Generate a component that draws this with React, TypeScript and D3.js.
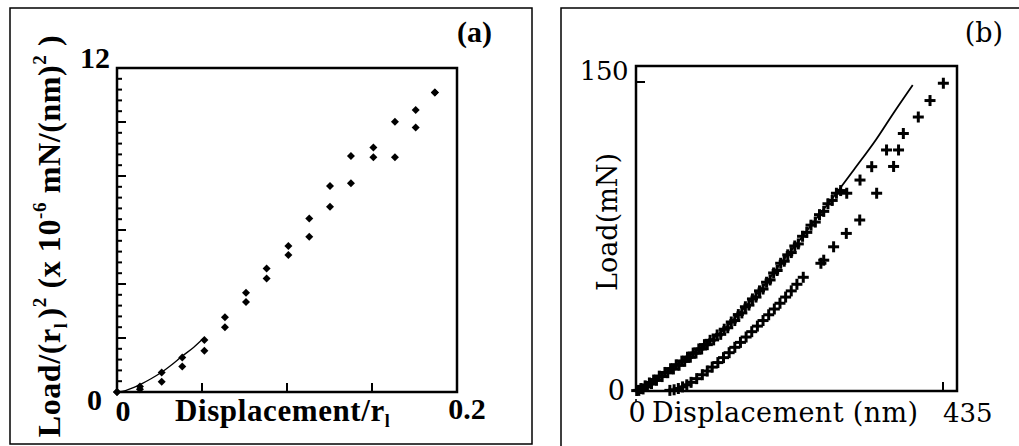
import React from "react";
import * as d3 from "d3";

// ---------- Panel (a) data ----------
const aX = [0.0, 0.0135, 0.0263, 0.0384, 0.0514, 0.0635, 0.0759, 0.088, 0.1008, 0.1131, 0.1253, 0.1376, 0.1508, 0.1635, 0.1757, 0.187];
const aYUpper = [0.0, 0.2, 0.72, 1.28, 1.93, 2.77, 3.68, 4.57, 5.41, 6.43, 7.63, 8.74, 9.06, 10.01, 10.44, 11.09];
const aYLower = [0.0, 0.1, 0.38, 0.94, 1.53, 2.4, 3.33, 4.2, 5.07, 5.75, 6.86, 7.73, 8.69, 8.69, 9.8, 11.09];
const aFitX = [0, 0.005, 0.01, 0.015, 0.02, 0.026, 0.032, 0.038, 0.045, 0.051];
const aFitY = [0, 0.05, 0.17, 0.32, 0.49, 0.72, 1.0, 1.31, 1.65, 2.0];
const aYTicksMajor = [0, 2, 4, 6, 8, 10, 12];
const aXTicks = [0.05, 0.1, 0.15];

// ---------- Panel (b) data ----------
const bFitX = [0, 10, 25, 45, 67, 95, 124, 150, 180, 205, 232, 255, 280, 310, 340, 365, 392];
const bFitY = [0, 1.8, 5.3, 10, 15, 22, 29.6, 39, 50.6, 62, 73.3, 83.5, 94.3, 108, 122, 135, 148.5];
const bLoadX = [1, 4, 7, 10, 13, 16, 19, 22, 25, 29, 33, 37, 41, 45, 49, 53, 57, 61, 65, 69, 73, 77, 81, 85, 89, 93, 97, 101, 105, 110, 115, 120, 125, 130, 135, 140, 145, 150, 155, 160, 165, 170, 175, 180, 185, 190, 195, 200, 205, 210, 215, 220, 225, 230, 236, 242, 248, 254, 260, 266, 272, 278, 284, 290];
const bLoadY = [0.2, 0.3, 1.2, 1.0, 2.5, 2.2, 3.9, 3.6, 5.3, 5.2, 7.2, 7.0, 9.0, 8.9, 10.8, 10.7, 12.7, 12.5, 14.5, 14.4, 16.4, 16.4, 18.4, 18.4, 20.4, 20.4, 22.5, 22.5, 24.6, 24.8, 27.2, 27.5, 30.0, 30.7, 33.5, 34.2, 37.1, 37.9, 40.9, 41.7, 44.7, 45.6, 48.6, 49.5, 52.8, 53.9, 57.3, 58.5, 62.0, 63.0, 66.1, 67.2, 70.4, 71.4, 75.1, 77.0, 80.5, 82.0, 85.6, 87.2, 90.9, 92.5, 96.0, 97.3];
const bLoad2X = [298.6, 317.4, 334, 355, 378.8, 400, 416.6, 435.5];
const bLoad2Y = [96, 102.4, 108.9, 117, 125, 133, 141, 149.4];
const bUnloadX = [48, 54, 60, 66, 72, 78, 86, 94, 101, 108, 116, 124, 132, 140, 148, 156, 164, 172, 180, 188, 196, 204, 212, 220, 228, 237, 262, 266, 280, 298, 317, 341, 365, 372];
const bUnloadY = [0.3, 0.6, 1.2, 2.0, 3.0, 4.2, 6.0, 7.9, 9.7, 11.6, 13.8, 16.2, 18.6, 21.2, 23.6, 26.2, 28.8, 31.5, 34.2, 37.0, 39.8, 42.6, 45.6, 48.6, 51.8, 55.2, 62, 63.5, 70, 76.5, 83, 96, 109, 117];
const bYTicks = [150];
const bXTicks = [435];

const W = 1019;
const H = 446;

const serifA = "'Liberation Serif', 'Times New Roman', serif";
const serifB = "'DejaVu Serif', serif";

function PanelA() {
  const x = d3.scaleLinear().domain([0, 0.2]).range([117, 457]);
  const y = d3.scaleLinear().domain([0, 12]).range([392, 68]);
  const minor: number[] = d3.range(0, 12.01, 0.4);
  const isMajor = (t: number) => aYTicksMajor.some((m) => Math.abs(m - t) < 1e-6);
  const line = d3
    .line<number>()
    .x((_, i) => x(aFitX[i]))
    .y((d) => y(d))
    .curve(d3.curveMonotoneX);
  const diamond = d3.symbol().type(d3.symbolSquare).size(32)();
  const pts: [number, number][] = [];
  aX.forEach((v, i) => {
    pts.push([v, aYUpper[i]]);
    pts.push([v, aYLower[i]]);
  });
  return (
    <g>
      <rect x={10} y={8} width={522} height={436} fill="none" stroke="#000" strokeWidth={1.5} />
      {minor.map((t, i) => (
        <line key={"m" + i} x1={x(0)} x2={x(0) + (isMajor(t) ? 9 : 5)} y1={y(t)} y2={y(t)} stroke="#000" strokeWidth={2} />
      ))}
      {aXTicks.map((t) => (
        <line key={"xt" + t} x1={x(t)} x2={x(t)} y1={y(0)} y2={y(0) - 9} stroke="#000" strokeWidth={2} />
      ))}
      <path d={line(aFitY) || ""} fill="none" stroke="#000" strokeWidth={1.3} />
      {pts.map(([px, py], i) => (
        <path key={"p" + i} d={diamond || ""} transform={`translate(${x(px)},${y(py)}) rotate(45)`} fill="#000" />
      ))}
      <rect x={117} y={68} width={340} height={324} fill="none" stroke="#000" strokeWidth={2.5} />
      <g fontFamily={serifA} fontWeight="bold" fontSize={30} fill="#000">
        <text x={492} y={42} textAnchor="end">(a)</text>
        <text x={110} y={68} textAnchor="end">{aYTicksMajor[6]}</text>
        <text x={102} y={410} textAnchor="end">{aYTicksMajor[0]}</text>
        <text x={123} y={421} textAnchor="middle">0</text>
        <text x={467} y={419} textAnchor="middle">0.2</text>
        <text x={175} y={421} fontSize={31} letterSpacing={0.6}>
          Displacement/r<tspan fontSize={18} dy={6}>l</tspan>
        </text>
        <text transform="translate(60,236) rotate(-90)" textAnchor="middle" fontSize={32} letterSpacing={0.6}>
          Load/(r<tspan fontSize={18} dy={7}>l</tspan>
          <tspan dy={-7} dx={4}>)</tspan>
          <tspan fontSize={19} dy={-14}>2</tspan>
          <tspan dy={14}> (x 10</tspan>
          <tspan fontSize={19} dy={-14}>-6</tspan>
          <tspan dy={14}> mN/(nm)</tspan>
          <tspan fontSize={19} dy={-14}>2</tspan>
          <tspan dy={14}> )</tspan>
        </text>
      </g>
    </g>
  );
}

function PanelB() {
  const x = d3.scaleLinear().domain([0, 435]).range([636, 943]);
  const y = d3.scaleLinear().domain([0, 150]).range([391, 82]);
  const line = d3
    .line<number>()
    .x((_, i) => x(bFitX[i]))
    .y((d) => y(d))
    .curve(d3.curveMonotoneX);
  const cross = (cx: number, cy: number, k: string) => (
    <g key={k} transform={`translate(${cx},${cy})`}>
      <line x1={-5.5} x2={5.5} y1={0} y2={0} stroke="#000" strokeWidth={3} />
      <line x1={0} x2={0} y1={-5.5} y2={5.5} stroke="#000" strokeWidth={3} />
    </g>
  );
  return (
    <g>
      <rect x={561} y={8} width={470} height={450} fill="none" stroke="#000" strokeWidth={1.5} />
      <defs>
        <clipPath id="clipB">
          <rect x={630} y={60} width={335} height={336} />
        </clipPath>
      </defs>
      {bYTicks.map((t) => (
        <line key={"yt" + t} x1={x(0)} x2={x(0) + 9} y1={y(t)} y2={y(t)} stroke="#000" strokeWidth={2} />
      ))}
      {bXTicks.map((t) => (
        <line key={"xt" + t} x1={x(t)} x2={x(t)} y1={y(0)} y2={y(0) - 9} stroke="#000" strokeWidth={2} />
      ))}
      <line x1={x(0)} x2={x(0)} y1={y(0) + 8} y2={y(0) + 11} stroke="#000" strokeWidth={1.6} />
      <path d={line(bFitY) || ""} fill="none" stroke="#000" strokeWidth={1.8} />
      <g clipPath="url(#clipB)">
        {bLoadX.map((v, i) => cross(x(v), y(bLoadY[i]), "l" + i))}
        {bLoad2X.map((v, i) => cross(x(v), y(bLoad2Y[i]), "l2" + i))}
        {bUnloadX.map((v, i) => cross(x(v), y(bUnloadY[i]), "u" + i))}
      </g>
      <rect x={636} y={66} width={321} height={325} fill="none" stroke="#000" strokeWidth={2.5} />
      <g fontFamily={serifB} fontSize={27} fill="#000">
        <text x={1003} y={42} textAnchor="end">(b)</text>
        <text x={628} y={80} textAnchor="end" fontSize={26} letterSpacing={-0.5}>{bYTicks[0]}</text>
        <text x={625} y={400} textAnchor="end">0</text>
        <text x={637} y={422} textAnchor="middle">0</text>
        <text x={652} y={422} letterSpacing={0.4}>Displacement (nm)</text>
        <text x={943} y={422} fontSize={26}>{bXTicks[0]}</text>
        <text transform="translate(617,222) rotate(-90)" textAnchor="middle">Load(mN)</text>
      </g>
    </g>
  );
}

export default function App() {
  return (
    <svg width={W} height={H} style={{ display: "block", position: "absolute", left: 0, top: 0, background: "#fff" }}>
      <rect x={0} y={0} width={W} height={H} fill="#fff" />
      <PanelA />
      <PanelB />
    </svg>
  );
}
